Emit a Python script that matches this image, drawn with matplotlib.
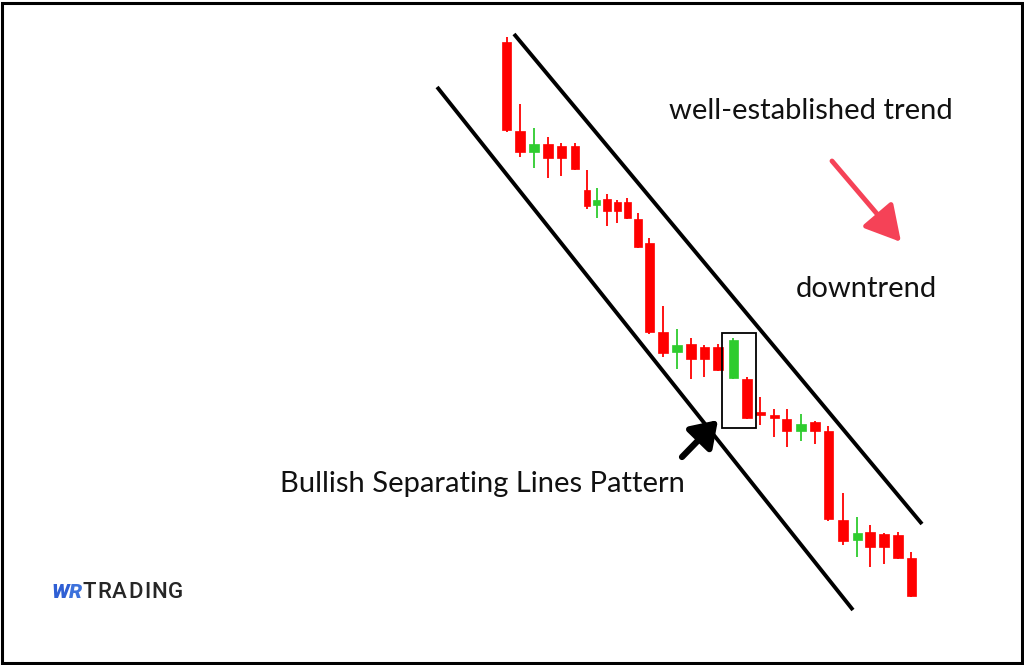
import numpy as np
import matplotlib
matplotlib.use('Agg')
import matplotlib.pyplot as plt
from matplotlib.patches import Rectangle

# candle time positions (bar units) and OHLC prices
t = [0, 1, 2, 3, 4, 5, 5.85, 6.55, 7.31, 8.07, 8.8, 9.56, 10.4, 11.38, 12.4, 13.42,
     14.4, 15.38, 16.5, 17.49, 18.45, 19.47, 20.4, 21.42, 22.44, 23.42, 24.47, 25.5,
     26.44, 27.45, 28.47, 29.45]
opens = [145.8, 136.9, 134.8, 135.6, 135.4, 135.4, 131.0, 129.5, 130.1, 129.8, 129.8, 128.1,
         125.7, 116.8, 114.8, 115.6, 115.3, 115.3, 112.2, 112.1, 108.8, 108.5, 108.1, 106.9,
         107.8, 106.9, 98.0, 96.0, 96.8, 96.6, 96.5, 94.2]
highs = [146.3, 139.6, 137.2, 136.3, 135.7, 135.7, 133.0, 131.2, 130.6, 130.0, 130.2, 128.7,
         126.2, 119.4, 117.1, 116.2, 115.5, 115.6, 116.2, 112.3, 110.3, 109.1, 109.1, 108.6,
         107.9, 107.4, 100.7, 98.3, 97.5, 96.7, 96.8, 94.8]
lows = [136.8, 134.3, 133.2, 132.2, 132.4, 133.0, 129.1, 128.2, 127.4, 127.7, 128.1, 125.2,
        116.6, 114.3, 113.1, 112.1, 112.3, 112.9, 112.1, 108.1, 107.5, 106.3, 105.3, 105.9,
        105.6, 97.9, 95.5, 94.3, 93.3, 93.6, 94.1, 90.3]
closes = [137.0, 134.8, 135.6, 134.2, 134.2, 133.1, 129.4, 130.0, 128.9, 128.9, 128.2, 125.3,
          116.8, 114.7, 115.5, 114.1, 114.1, 113.0, 116.0, 108.2, 108.5, 108.2, 106.9, 107.6,
          106.9, 98.1, 95.9, 96.7, 95.3, 95.3, 94.2, 90.4]

# channel lines (start/end in bar units and price)
upper_t = [0.545, 30.22]
upper_p = [146.6, 97.6]
lower_t = [-5.05, 25.2]
lower_p = [141.3, 89.0]

# the two candles of the pattern
pattern = [18, 19]

RED = '#ff0000'
GREEN = '#2ecc2e'

fig = plt.figure(figsize=(10.24, 6.65), dpi=100)
ax = fig.add_axes([0, 0, 1, 1])
ax.set_xlim(-36.84, 37.64)
ax.set_ylim(83.5, 150)
ax.axis('off')

t = np.array(t)
o = np.array(opens)
c = np.array(closes)
gaps = np.diff(t)
spacing = np.minimum(np.r_[gaps[0], gaps], np.r_[gaps, gaps[-1]])
widths = 0.7 * spacing
colors = [GREEN if cc > oo else RED for oo, cc in zip(o, c)]

ax.vlines(t, lows, highs, colors=colors, lw=1.3, zorder=2)
ax.bar(t, np.abs(c - o), width=widths, bottom=np.minimum(o, c), color=colors,
       edgecolor=colors, lw=0.5, zorder=3)

ax.plot(upper_t, upper_p, color='black', lw=2.8, solid_capstyle='butt')
ax.plot(lower_t, lower_p, color='black', lw=2.8, solid_capstyle='butt')

# box around the pattern
x0 = t[pattern[0]] - 0.83
x1 = t[pattern[-1]] + 0.66
y0 = min(lows[i] for i in pattern) - 0.9
y1 = max(highs[i] for i in pattern) + 0.5
ax.add_patch(Rectangle((x0, y0), x1 - x0, y1 - y0, fill=False, ec='black', lw=1.3, zorder=4))

# arrows (figure pixels)
H = 665
ax.annotate('', xy=(718, H - 420), xytext=(682, H - 457), xycoords='figure pixels',
            textcoords='figure pixels',
            arrowprops=dict(arrowstyle='-|>,head_length=0.9,head_width=0.6', lw=4.5,
                            color='black', mutation_scale=17, shrinkA=0, shrinkB=0))
ax.annotate('', xy=(901, H - 242), xytext=(832, H - 161), xycoords='figure pixels',
            textcoords='figure pixels',
            arrowprops=dict(arrowstyle='-|>,head_length=0.9,head_width=0.5', lw=3.5,
                            color='#f54257', mutation_scale=24, shrinkA=0, shrinkB=0))

font = 'Lato'
fig.text(811 / 1024, 1 - 111 / H, 'well-established trend', ha='center', va='center',
         fontsize=21, family=font, color='#111111')
fig.text(866 / 1024, 1 - 289 / H, 'downtrend', ha='center', va='center',
         fontsize=21, family=font, color='#111111')
fig.text(482 / 1024, 1 - 484 / H, 'Bullish Separating Lines Pattern', ha='center',
         va='center', fontsize=21, family=font, color='#111111')

# logo, letter by letter so the tracking can be widened
renderer = fig.canvas.get_renderer()
x = 51
for ch, col, gap in [('W', '#2f5fd4', 0), ('R', '#3d72dc', 0.5)]:
    txt = fig.text(x / 1024, 1 - 598 / H, ch, ha='left', va='baseline', fontsize=15,
                   family='Roboto', weight='black', style='italic', color=col)
    x += txt.get_window_extent(renderer).width + gap
for ch in 'TRADING':
    txt = fig.text(x / 1024, 1 - 598 / H, ch, ha='left', va='baseline', fontsize=16,
                   family='Roboto', weight='medium', color='#262626')
    x += txt.get_window_extent(renderer).width + 1.2

# outer frame
fig.add_artist(Rectangle((1.5 / 1024, 2.5 / H), 1020.5 / 1024, 660 / H, fill=False,
                         ec='black', lw=2.2, transform=fig.transFigure))

fig.savefig('out.png', dpi=100, facecolor='white')
